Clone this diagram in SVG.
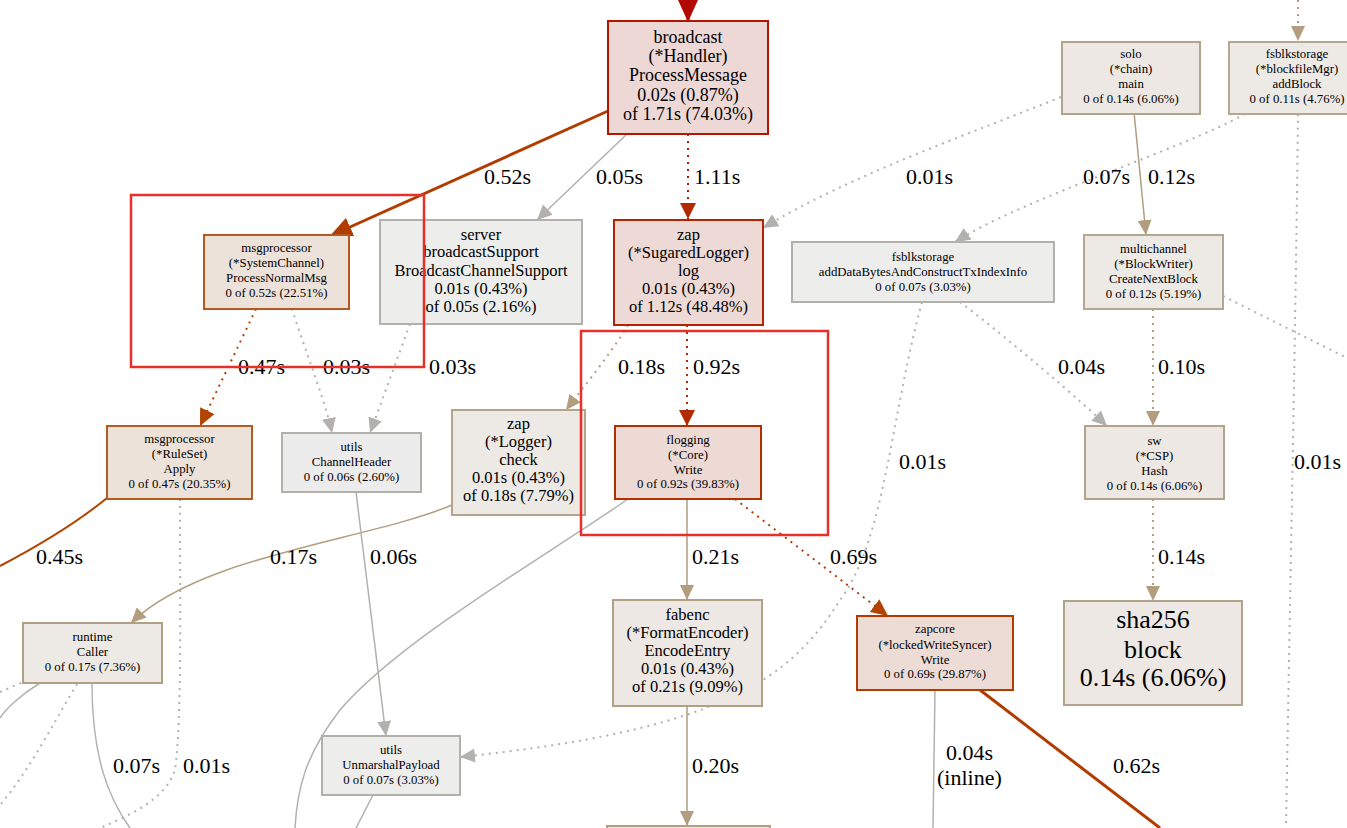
<svg xmlns="http://www.w3.org/2000/svg" width="1347" height="828" viewBox="0 0 1347 828">
<style>
text{font-family:"Liberation Serif","Times New Roman",serif;fill:#000;text-anchor:middle}
.n18{font-size:18px}.n16{font-size:16.5px}.n12{font-size:12.8px}.n26{font-size:26px}
.lbl{font-size:22px;text-anchor:start}
.e{fill:none;stroke-width:1.5}
.dot{stroke-dasharray:2,5;stroke-width:2}
.gray{stroke:#b2b1ad}.tan{stroke:#b29d7f}
.box{stroke-width:2}
.hl{fill:none;stroke:#e8302a;stroke-width:2.5}
</style>
<defs>
<marker id="ag" viewBox="0 0 15 14" refX="15" refY="7" markerWidth="15" markerHeight="14" orient="auto" markerUnits="userSpaceOnUse"><path d="M0,0L15,7L0,14z" fill="#b2b1ad"/></marker>
<marker id="at" viewBox="0 0 15 14" refX="15" refY="7" markerWidth="15" markerHeight="14" orient="auto" markerUnits="userSpaceOnUse"><path d="M0,0L15,7L0,14z" fill="#b29d7f"/></marker>
<marker id="ar" viewBox="0 0 16 16" refX="16" refY="8" markerWidth="16" markerHeight="16" orient="auto" markerUnits="userSpaceOnUse"><path d="M0,0L16,8L0,16z" fill="#b22a00"/></marker>
<marker id="ao" viewBox="0 0 17 16" refX="17" refY="8" markerWidth="17" markerHeight="16" orient="auto" markerUnits="userSpaceOnUse"><path d="M0,0L17,8L0,16z" fill="#b24300"/></marker>
<marker id="abo" viewBox="0 0 22 20" refX="22" refY="10" markerWidth="22" markerHeight="20" orient="auto" markerUnits="userSpaceOnUse"><path d="M0,0L22,10L0,20z" fill="#b23c00"/></marker>
<marker id="abr" viewBox="0 0 22 20" refX="22" refY="10" markerWidth="22" markerHeight="20" orient="auto" markerUnits="userSpaceOnUse"><path d="M0,0L22,10L0,20z" fill="#b20a00"/></marker>
</defs>
<rect width="1347" height="828" fill="#fff"/>
<g id="connectors">
<path d="M688,-10L688,22" stroke="#b20a00" stroke-width="3" fill="none" marker-end="url(#abr)"/>
<path d="M608,111L330,236" stroke="#b23c00" stroke-width="3" fill="none" marker-end="url(#abo)"/>
<path class="e gray" d="M627,134L537,220" marker-end="url(#ag)"/>
<path class="e dot" stroke="#b21c00" d="M688,134L688,219" marker-end="url(#ar)"/>
<path class="e dot gray" d="M1061,97C980,130 850,175 763,228" marker-end="url(#ag)"/>
<path class="e dot gray" d="M1245,114C1180,150 1020,200 955,242" marker-end="url(#ag)"/>
<path class="e tan" d="M1134,112L1146,235" marker-end="url(#at)"/>
<path class="e dot tan" d="M1298,0L1298,41" marker-end="url(#at)"/>
<path class="e dot" stroke="#b24300" d="M256,309L200,426" marker-end="url(#ao)"/>
<path class="e dot gray" d="M292,309C305,350 325,400 332,433" marker-end="url(#ag)"/>
<path class="e dot gray" d="M410,324L370,433" marker-end="url(#ag)"/>
<path class="e dot tan" d="M628,325C610,355 585,385 566,410" marker-end="url(#at)"/>
<path class="e dot" stroke="#b22800" d="M687,325L687,426" marker-end="url(#ar)"/>
<path class="e dot gray" d="M960,302C1010,340 1080,400 1107,426" marker-end="url(#ag)"/>
<path class="e dot tan" d="M1153,309L1153,426" marker-end="url(#at)"/>
<path class="e dot gray" d="M1223,296L1347,358"/>
<path class="e dot gray" d="M1298,114C1296,300 1290,600 1286,828"/>
<path class="e dot gray" d="M922,302C890,420 885,540 840,600C790,680 720,730 460,757" marker-end="url(#ag)"/>
<path d="M107,498C80,520 40,545 0,566" stroke="#b24400" stroke-width="2" fill="none"/>
<path class="e dot gray" d="M180,499C180,600 182,720 175,770C165,800 130,815 100,828"/>
<path class="e tan" d="M452,505C370,540 200,555 131,623" marker-end="url(#at)"/>
<path class="e gray" d="M356,492L386,736" marker-end="url(#ag)"/>
<path class="e gray" d="M628,499C540,560 400,640 340,710C305,755 297,790 295,828"/>
<path class="e tan" d="M687,499L687,600" marker-end="url(#at)"/>
<path class="e dot" stroke="#b23a00" stroke-width="2.5" d="M735,499L888,616" marker-end="url(#ao)"/>
<path class="e dot tan" d="M1153,499L1153,601" marker-end="url(#at)"/>
<path class="e gray" d="M92,683C92,760 110,800 130,828"/>
<path class="e gray" d="M40,683C20,695 5,710 0,718"/>
<path class="e dot gray" d="M0,692L23,682"/>
<path class="e dot gray" d="M77,684C55,720 30,770 0,805"/>
<path class="e gray" d="M373,795L356,828"/>
<path class="e tan" d="M687,706L687,826" marker-end="url(#at)"/>
<path class="e gray" stroke-width="1" d="M935,690L933,828"/>
<path d="M980,690L1160,828" stroke="#b23c00" stroke-width="3" fill="none"/>
<g class="labels">
<text class="lbl" x="484" y="184">0.52s</text>
<text class="lbl" x="596" y="184">0.05s</text>
<text class="lbl" x="694" y="184">1.11s</text>
<text class="lbl" x="906" y="184">0.01s</text>
<text class="lbl" x="1083" y="184">0.07s</text>
<text class="lbl" x="1148" y="184">0.12s</text>
<text class="lbl" x="238" y="374">0.47s</text>
<text class="lbl" x="323" y="374">0.03s</text>
<text class="lbl" x="429" y="374">0.03s</text>
<text class="lbl" x="618" y="374">0.18s</text>
<text class="lbl" x="693" y="374">0.92s</text>
<text class="lbl" x="1058" y="374">0.04s</text>
<text class="lbl" x="1158" y="374">0.10s</text>
<text class="lbl" x="899" y="469">0.01s</text>
<text class="lbl" x="1294" y="469">0.01s</text>
<text class="lbl" x="36" y="564">0.45s</text>
<text class="lbl" x="270" y="564">0.17s</text>
<text class="lbl" x="370" y="564">0.06s</text>
<text class="lbl" x="692" y="564">0.21s</text>
<text class="lbl" x="830" y="564">0.69s</text>
<text class="lbl" x="1158" y="564">0.14s</text>
<text class="lbl" x="113" y="773">0.07s</text>
<text class="lbl" x="183" y="773">0.01s</text>
<text class="lbl" x="692" y="773">0.20s</text>
<text class="lbl" x="946" y="760">0.04s</text>
<text class="lbl" x="937" y="785">(inline)</text>
<text class="lbl" x="1113" y="773">0.62s</text>
</g>
</g>
<g id="n-broadcast">
<rect class="box" x="608" y="21" width="160" height="113" fill="#edd8d6" stroke="#b21600"/>
<text class="n18" x="688" y="43">broadcast</text><text class="n18" x="688" y="62">(*Handler)</text><text class="n18" x="688" y="81">ProcessMessage</text><text class="n18" x="688" y="101">0.02s (0.87%)</text><text class="n18" x="688" y="120">of 1.71s (74.03%)</text>
</g>
<g id="n-solo">
<rect class="box" x="1062" y="42" width="138" height="72" fill="#ede8e4" stroke="#b2a48c"/>
<text class="n12" x="1131" y="58">solo</text><text class="n12" x="1131" y="73">(*chain)</text><text class="n12" x="1131" y="88">main</text><text class="n12" x="1131" y="103">0 of 0.14s (6.06%)</text>
</g>
<g id="n-addBlock">
<rect class="box" x="1229" y="42" width="136" height="72" fill="#ede9e5" stroke="#b2a894"/>
<text class="n12" x="1297" y="58">fsblkstorage</text><text class="n12" x="1297" y="73">(*blockfileMgr)</text><text class="n12" x="1297" y="88">addBlock</text><text class="n12" x="1297" y="103">0 of 0.11s (4.76%)</text>
</g>
<g id="n-systemchannel">
<rect class="box" x="204" y="235" width="145" height="74" fill="#ede2da" stroke="#b45a1e"/>
<text class="n12" x="276.5" y="252">msgprocessor</text><text class="n12" x="276.5" y="267">(*SystemChannel)</text><text class="n12" x="276.5" y="282">ProcessNormalMsg</text><text class="n12" x="276.5" y="297">0 of 0.52s (22.51%)</text>
</g>
<g id="n-server">
<rect class="box" x="380" y="220" width="202" height="104" fill="#ededec" stroke="#b2b1ae"/>
<text class="n16" x="481" y="240">server</text><text class="n16" x="481" y="257">broadcastSupport</text><text class="n16" x="481" y="276">BroadcastChannelSupport</text><text class="n16" x="481" y="294">0.01s (0.43%)</text><text class="n16" x="481" y="312">of 0.05s (2.16%)</text>
</g>
<g id="n-sugared">
<rect class="box" x="614" y="220" width="149" height="105" fill="#edd9d5" stroke="#b22400"/>
<text class="n16" x="688.5" y="240">zap</text><text class="n16" x="688.5" y="258">(*SugaredLogger)</text><text class="n16" x="688.5" y="276">log</text><text class="n16" x="688.5" y="294">0.01s (0.43%)</text><text class="n16" x="688.5" y="312">of 1.12s (48.48%)</text>
</g>
<g id="n-adddata">
<rect class="box" x="792" y="242" width="262" height="60" fill="#ededec" stroke="#b2b0ab"/>
<text class="n12" x="923" y="261">fsblkstorage</text><text class="n12" x="923" y="276">addDataBytesAndConstructTxIndexInfo</text><text class="n12" x="923" y="291">0 of 0.07s (3.03%)</text>
</g>
<g id="n-multichannel">
<rect class="box" x="1084" y="235" width="139" height="74" fill="#ede9e5" stroke="#b2a791"/>
<text class="n12" x="1153.5" y="253">multichannel</text><text class="n12" x="1153.5" y="268">(*BlockWriter)</text><text class="n12" x="1153.5" y="283">CreateNextBlock</text><text class="n12" x="1153.5" y="298">0 of 0.12s (5.19%)</text>
</g>
<g id="n-ruleset">
<rect class="box" x="107" y="426" width="145" height="73" fill="#ede2da" stroke="#b45c20"/>
<text class="n12" x="179.5" y="443">msgprocessor</text><text class="n12" x="179.5" y="458">(*RuleSet)</text><text class="n12" x="179.5" y="473">Apply</text><text class="n12" x="179.5" y="488">0 of 0.47s (20.35%)</text>
</g>
<g id="n-channelheader">
<rect class="box" x="282" y="433" width="139" height="59" fill="#edecec" stroke="#b2b0aa"/>
<text class="n12" x="351.5" y="451">utils</text><text class="n12" x="351.5" y="466">ChannelHeader</text><text class="n12" x="351.5" y="481">0 of 0.06s (2.60%)</text>
</g>
<g id="n-check">
<rect class="box" x="452" y="410" width="133" height="105" fill="#ede9e5" stroke="#b2a48d"/>
<text class="n16" x="518.5" y="429">zap</text><text class="n16" x="518.5" y="447">(*Logger)</text><text class="n16" x="518.5" y="465">check</text><text class="n16" x="518.5" y="483">0.01s (0.43%)</text><text class="n16" x="518.5" y="501">of 0.18s (7.79%)</text>
</g>
<g id="n-flogging">
<rect class="box" x="615" y="426" width="146" height="73" fill="#eddad5" stroke="#b22f00"/>
<text class="n12" x="688" y="444">flogging</text><text class="n12" x="688" y="459">(*Core)</text><text class="n12" x="688" y="474">Write</text><text class="n12" x="688" y="488">0 of 0.92s (39.83%)</text>
</g>
<g id="n-sw">
<rect class="box" x="1085" y="426" width="139" height="73" fill="#ede8e4" stroke="#b2a48c"/>
<text class="n12" x="1154.5" y="445">sw</text><text class="n12" x="1154.5" y="460">(*CSP)</text><text class="n12" x="1154.5" y="475">Hash</text><text class="n12" x="1154.5" y="490">0 of 0.14s (6.06%)</text>
</g>
<g id="n-caller">
<rect class="box" x="23" y="623" width="139" height="60" fill="#ede9e4" stroke="#b2a084"/>
<text class="n12" x="92.5" y="641">runtime</text><text class="n12" x="92.5" y="656">Caller</text><text class="n12" x="92.5" y="671">0 of 0.17s (7.36%)</text>
</g>
<g id="n-fabenc">
<rect class="box" x="613" y="600" width="149" height="106" fill="#ede8e3" stroke="#b2a084"/>
<text class="n16" x="687.5" y="620">fabenc</text><text class="n16" x="687.5" y="638">(*FormatEncoder)</text><text class="n16" x="687.5" y="656">EncodeEntry</text><text class="n16" x="687.5" y="674">0.01s (0.43%)</text><text class="n16" x="687.5" y="692">of 0.21s (9.09%)</text>
</g>
<g id="n-zapcore">
<rect class="box" x="857" y="616" width="156" height="74" fill="#eddcd5" stroke="#b23c00"/>
<text class="n12" x="935" y="633">zapcore</text><text class="n12" x="935" y="649">(*lockedWriteSyncer)</text><text class="n12" x="935" y="664">Write</text><text class="n12" x="935" y="678">0 of 0.69s (29.87%)</text>
</g>
<g id="n-sha256">
<rect class="box" x="1064" y="601" width="178" height="104" fill="#ede8e4" stroke="#b2a48c"/>
<text class="n26" x="1153" y="628">sha256</text><text class="n26" x="1153" y="658">block</text><text class="n26" x="1153" y="686">0.14s (6.06%)</text>
</g>
<g id="n-unmarshal">
<rect class="box" x="322" y="736" width="138" height="59" fill="#ededec" stroke="#b2b0ab"/>
<text class="n12" x="391" y="754">utils</text><text class="n12" x="391" y="769">UnmarshalPayload</text><text class="n12" x="391" y="784">0 of 0.07s (3.03%)</text>
</g>
<g id="n-bottom">
<rect class="box" x="607" y="826" width="163" height="40" fill="#ede8e3" stroke="#b2a084"/>
</g>
<g id="highlights">
<rect class="hl" x="131" y="195" width="293" height="172"/>
<rect class="hl" x="581" y="331" width="247" height="204"/>
</g>
</svg>
